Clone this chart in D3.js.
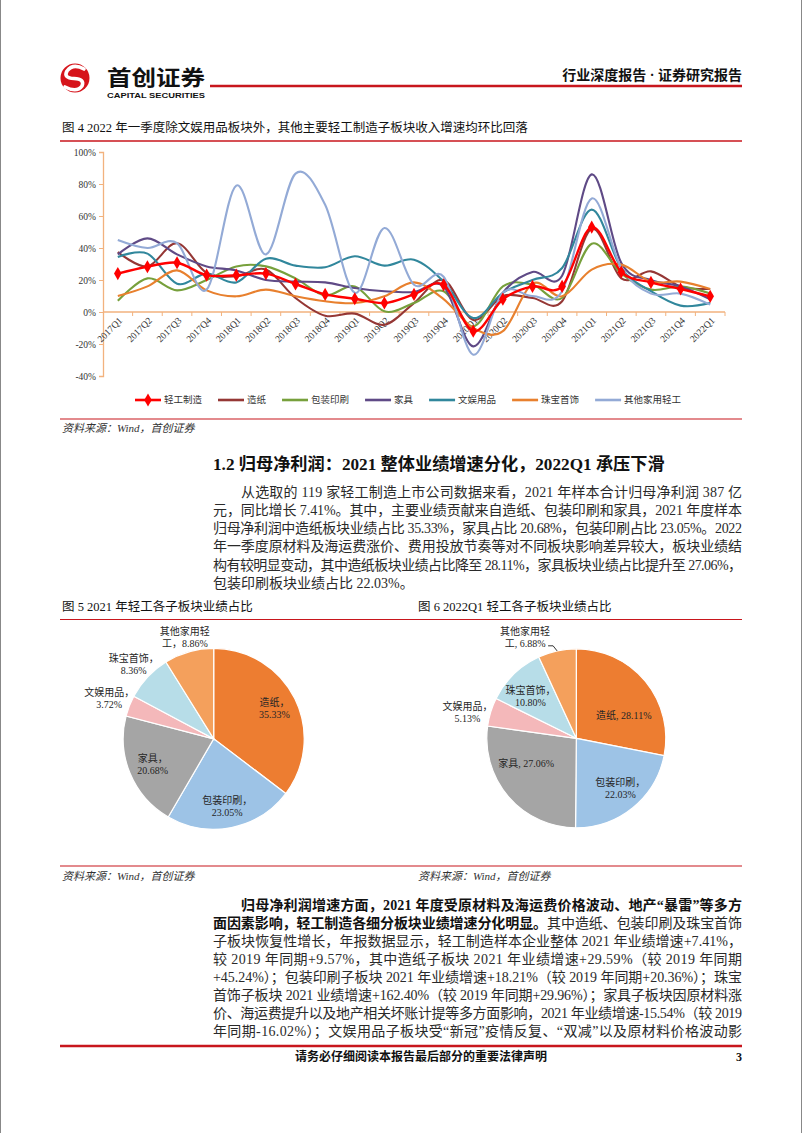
<!DOCTYPE html>
<html><head><meta charset="utf-8">
<script src="https://cdn.jsdelivr.net/npm/d3@7"></script>
<style>html,body{margin:0;padding:0;background:#fff;} svg{display:block;}</style>
</head><body><svg id="page" width="802" height="1133"></svg>
<script>
// ---------------- DATA ----------------
const categories = ["2017Q1","2017Q2","2017Q3","2017Q4","2018Q1","2018Q2","2018Q3","2018Q4",
  "2019Q1","2019Q2","2019Q3","2019Q4","2020Q1","2020Q2","2020Q3","2020Q4",
  "2021Q1","2021Q2","2021Q3","2021Q4","2022Q1"];
const seriesNames = ["轻工制造","造纸","包装印刷","家具","文娱用品","珠宝首饰","其他家用轻工"];
const qinggong  = [24, 28.3, 30.8, 23, 23, 24, 17.5, 11, 8.3, 5.6, 11, 17, -12, 8, 16, 16, 53, 25, 18.5, 14.4, 9.8];
const zaozhi    = [37.5, 28.5, 43, 24.4, 22.3, 26.5, 8.75, -2.3, -1, -8, 5.6, 20, -5, 10, 8.75, 6.7, 52, 21, 25.4, 16, 14.4];
const baozhuang = [7, 21, 13.5, 20, 28.5, 28.5, 21, 10.4, 16, 0.4, 5.6, 13, -9, 16, 17, 8.75, 42.7, 24, 14, 16, 11.5];
const jiaju     = [36, 46, 36, 28.5, 26, 20, 19, 18.5, 15, 13, 12.5, 16, -21.5, 12, 25, 22.7, 86, 30.6, 20, 16, 8];
const wenyu     = [34.4, 36.5, 17.7, 24, 18.5, 33.3, 29, 28, 34.8, 29, 32.7, 19, -3.75, 12, 20, 27.5, 64, 27.5, 13, 4, 5.6];
const zhubao    = [10, 16, 26, 13.5, 9.8, 14, 9.8, 6.7, 5.6, 9.8, 18.5, 8, -10, -12, 17.7, 9.8, 26.5, 29.6, 19, 19, 14.4];
const qita      = [45, 40, 43, 14, 79, 36, 86.5, 67, 12, 52.5, 17, 22, -26.7, 12, 10, 13, 71, 27.5, 11.5, 11.5, 4.6];
const yTicks = [-40, -20, 0, 20, 40, 60, 80, 100];

const pieCats = ["造纸","包装印刷","家具","文娱用品","珠宝首饰","其他家用轻工"];
const pie2021 = [35.33, 23.05, 20.68, 3.72, 8.36, 8.86];
const pie2022 = [28.11, 22.03, 27.06, 5.13, 10.80, 6.88];

// ---------------- STYLE ----------------
const SERIF = "'Liberation Serif','Noto Sans CJK SC',serif";
const SANS = "'Noto Sans CJK SC','Liberation Sans',sans-serif";
const RED = "#C8161D";
const AXIS = "#F2B27E";
const lineColors = ["#FF0000","#953735","#77A03C","#5F4A86","#31879C","#E8802E","#93AAD6"];
const pieColors = ["#ED7D31","#9DC3E6","#A5A5A5","#F4B8BA","#B7DDE8","#F4A05C"];
const TXT = "#2a2a2a";

const svg = d3.select("#page");
svg.append("rect").attr("width",802).attr("height",1133).attr("fill","#fff");
svg.append("line").attr("x1",0.5).attr("x2",0.5).attr("y1",0).attr("y2",1133).attr("stroke","#888");
svg.append("line").attr("x1",801.5).attr("x2",801.5).attr("y1",0).attr("y2",1133).attr("stroke","#888");

function hline(y, x1, x2, w){
  svg.append("line").attr("x1",x1).attr("x2",x2).attr("y1",y).attr("y2",y)
    .attr("stroke",RED).attr("stroke-width",w);
}
function txt(x, y, s, opt={}){
  return svg.append("text").attr("x",x).attr("y",y).text(s)
    .attr("font-family",opt.family||SERIF).attr("font-size",opt.size||12)
    .attr("font-weight",opt.weight||"normal").attr("font-style",opt.style||"normal")
    .attr("fill",opt.fill||TXT).attr("text-anchor",opt.anchor||"start")
    .attr("dominant-baseline","central");
}

// ---------------- HEADER ----------------
const logo = svg.append("g");
logo.append("circle").attr("cx",75).attr("cy",78).attr("r",14.5).attr("fill","#D6141B");
logo.append("path").attr("d","M84,69 Q73,63 67,71 Q63,78 74,78.5 Q85,79 82,86 Q77,93 65,87")
  .attr("fill","none").attr("stroke","#fff").attr("stroke-width",3.6).attr("stroke-linecap","round");
txt(107, 75.5, "首创证券", {family:SANS, size:21, weight:"bold", fill:"#111"}).attr("textLength",98).attr("lengthAdjust","spacingAndGlyphs");
txt(107, 95, "CAPITAL SECURITIES", {family:"'Liberation Sans',sans-serif", size:8, weight:"bold", fill:"#111"}).attr("textLength",98).attr("lengthAdjust","spacingAndGlyphs");
hline(86, 210, 742, 2.5);
txt(742, 75, "行业深度报告 · 证券研究报告", {size:14, weight:"bold", anchor:"end", fill:"#111"});

// ---------------- FIGURE 4 ----------------
txt(62, 128, "图 4 2022 年一季度除文娱用品板块外，其他主要轻工制造子板块收入增速均环比回落", {size:12.5, fill:"#111"});
hline(141, 60, 742, 1.5);

const x = d3.scaleBand().domain(categories).range([103, 725]);
const y = d3.scaleLinear().domain([-40, 100]).range([376, 152]);
const cx = d => x(d) + x.bandwidth()/2;

const chart = svg.append("g");
const ya = chart.append("g").attr("transform","translate(103,0)")
  .call(d3.axisLeft(y).tickValues(yTicks).tickFormat(d => d + "%").tickSize(4).tickPadding(3));
ya.select(".domain").attr("stroke",AXIS).attr("stroke-width",1.3);
ya.selectAll(".tick line").attr("stroke",AXIS);
ya.selectAll(".tick text").attr("font-family",SERIF).attr("font-size",9.5).attr("fill","#333");

const xa = chart.append("g").attr("transform",`translate(0,${y(0)})`);
xa.append("line").attr("x1",x.range()[0]).attr("x2",x.range()[1]).attr("stroke",AXIS).attr("stroke-width",1.3);
xa.selectAll("line.tk").data(categories.slice(1).concat([null])).join("line").attr("class","tk")
  .attr("x1", d => d ? x(d) : x.range()[1]).attr("x2", d => d ? x(d) : x.range()[1])
  .attr("y1",0).attr("y2",4).attr("stroke",AXIS);
xa.selectAll("text").data(categories).join("text")
  .attr("transform", d => `translate(${cx(d)+3},7) rotate(-45)`)
  .attr("text-anchor","end").attr("dominant-baseline","central")
  .attr("font-family",SERIF).attr("font-size",9.5).attr("fill","#333").text(d => d);

const allSeries = [qinggong, zaozhi, baozhuang, jiaju, wenyu, zhubao, qita];
const lineGen = d3.line().x((d,i) => cx(categories[i])).y(d => y(d)).curve(d3.curveCardinal.tension(0));
const drawOrder = [1,2,3,4,5,6,0];
drawOrder.forEach(k => {
  chart.append("path").attr("d", lineGen(allSeries[k])).attr("fill","none")
    .attr("stroke", lineColors[k]).attr("stroke-width", k===0 ? 2.4 : 2.1).attr("stroke-linejoin","round");
});
const diamond = d3.symbol().type(d3.symbolDiamond).size(50);
chart.selectAll("path.mk").data(qinggong).join("path").attr("class","mk")
  .attr("transform",(d,i) => `translate(${cx(categories[i])},${y(d)})`)
  .attr("d", diamond()).attr("fill","#FF0000");

// legend
const leg = svg.append("g");
let lx = 135; const ly = 400;
seriesNames.forEach((name,i) => {
  leg.append("line").attr("x1",lx).attr("x2",lx+26).attr("y1",ly).attr("y2",ly)
    .attr("stroke",lineColors[i]).attr("stroke-width",2.6);
  if (i===0) leg.append("path").attr("transform",`translate(${lx+13},${ly})`).attr("d",diamond()).attr("fill","#FF0000");
  const t = leg.append("text").attr("x",lx+29).attr("y",ly).attr("dominant-baseline","central")
    .attr("font-family",SERIF).attr("font-size",9.5).attr("fill","#333").text(name);
  lx = lx + 29 + t.node().getComputedTextLength() + 16;
});

hline(419, 60, 742, 1.2);
txt(62, 428, "资料来源：Wind，首创证券", {size:11, style:"italic", fill:"#333"});

// ---------------- TEXT BLOCKS ----------------
function justifyLine(segs, x0, x1, yy, size, justify){
  const els = segs.map(s => svg.append("text").attr("y",yy).attr("font-family",SERIF)
    .attr("font-size",size).attr("font-weight", s[1] ? "bold" : "normal").attr("fill", s[1] ? "#111" : TXT)
    .attr("dominant-baseline","central").text(s[0]));
  const widths = els.map(e => e.node().getComputedTextLength());
  const total = d3.sum(widths);
  const nChars = d3.sum(segs, s => [...s[0]].length);
  const extra = justify ? (x1 - x0 - total) / Math.max(1, nChars - 1) : 0;
  let px = x0;
  els.forEach((e,i) => {
    const n = [...segs[i][0]].length;
    const L = widths[i] + extra * (i === els.length-1 ? n-1 : n);
    e.attr("x", px);
    if (justify) e.attr("textLength", L).attr("lengthAdjust","spacing");
    px += widths[i] + extra * n;
  });
}

txt(213, 464, "1.2  归母净利润：2021 整体业绩增速分化，2022Q1 承压下滑", {size:17.2, weight:"bold", fill:"#111"});

const para1 = [
  [[["从选取的 119 家轻工制造上市公司数据来看，2021 年样本合计归母净利润 387 亿",0]], true, true],
  [[["元，同比增长 7.41%。其中，主要业绩贡献来自造纸、包装印刷和家具，2021 年度样本",0]], false, true],
  [[["归母净利润中造纸板块业绩占比 35.33%，家具占比 20.68%，包装印刷占比 23.05%。2022",0]], false, true],
  [[["年一季度原材料及海运费涨价、费用投放节奏等对不同板块影响差异较大，板块业绩结",0]], false, true],
  [[["构有较明显变动，其中造纸板块业绩占比降至 28.11%，家具板块业绩占比提升至 27.06%，",0]], false, true],
  [[["包装印刷板块业绩占比 22.03%。",0]], false, false]
];
para1.forEach((ln,i) => justifyLine(ln[0], ln[1] ? 241 : 213, 742, 492 + i*18.3, 14, ln[2]));

// ---------------- FIGURES 5 & 6 ----------------
txt(62, 607, "图 5 2021 年轻工各子板块业绩占比", {size:12.5, fill:"#111"});
txt(418, 607, "图 6 2022Q1 轻工各子板块业绩占比", {size:12.5, fill:"#111"});
hline(619.5, 60, 742, 1.2);

const pieGen = d3.pie().sort(null).value(d => d);
function drawPie(values, cxp, cyp, r, labels, labelLayout){
  const arcs = pieGen(values);
  const arc = d3.arc().innerRadius(0).outerRadius(r);
  const g = svg.append("g").attr("transform",`translate(${cxp},${cyp})`);
  g.selectAll("path").data(arcs).join("path").attr("d",arc)
    .attr("fill",(d,i) => pieColors[i]).attr("stroke","#fff").attr("stroke-width",1.2);
  arcs.forEach((a,i) => {
    const lay = labelLayout[i];
    const ang = lay.ang !== undefined ? lay.ang*Math.PI/180 : (a.startAngle + a.endAngle)/2;
    const rr = lay.rf * r;
    const lxp = Math.sin(ang)*rr, lyp = -Math.cos(ang)*rr;
    const lines = labels[i];
    const t = g.append("text").attr("text-anchor","middle").attr("font-family",SERIF)
      .attr("font-size",10).attr("fill","#262626");
    lines.forEach((s,j) => t.append("tspan").attr("x",lxp)
      .attr("y", lyp + (j - (lines.length-1)/2)*12).attr("dominant-baseline","central").text(s));
    if (lay.leader) {
      const ma = (a.startAngle + a.endAngle)/2;
      const ex = Math.sin(ma)*r, ey = -Math.cos(ma)*r;
      const sx = lxp + 23, sy = lyp + 8;
      g.append("path").attr("d",`M${sx},${sy} L${sx+5},${sy} L${ex},${ey}`)
        .attr("fill","none").attr("stroke","#333").attr("stroke-width",1);
    }
  });
}
const fmt = v => v.toFixed(2) + "%";
const labels2021 = pieCats.map((c,i) => c === "其他家用轻工"
  ? ["其他家用轻", "工，" + fmt(pie2021[i])] : [c + "，", fmt(pie2021[i])]);
const labels2022 = pieCats.map((c,i) => {
  if (c === "其他家用轻工") return ["其他家用轻", "工, " + fmt(pie2022[i])];
  if (c === "造纸" || c === "家具") return [c + ", " + fmt(pie2022[i])];
  return [c + "，", fmt(pie2022[i])];
});
drawPie(pie2021, 213.7, 738.8, 90.5, labels2021,
  [{rf:0.75},{rf:0.76},{rf:0.73},{rf:1.24},{rf:1.21},{rf:1.16}]);
drawPie(pie2022, 576.3, 738.3, 89.5, labels2022,
  [{rf:0.59, ang:64},{rf:0.75, ang:139},{rf:0.63, ang:243},{rf:1.25, ang:283.5},{rf:0.69, ang:312},{rf:1.26, ang:333, leader:true}]);

hline(866, 60, 742, 1.2);
txt(62, 876, "资料来源：Wind，首创证券", {size:11, style:"italic", fill:"#333"});
txt(418, 876, "资料来源：Wind，首创证券", {size:11, style:"italic", fill:"#333"});

const para2 = [
  [[["归母净利润增速方面，2021 年度受原材料及海运费价格波动、地产“暴雷”等多方",1]], true, true],
  [[["面因素影响，轻工制造各细分板块业绩增速分化明显。",1],["其中造纸、包装印刷及珠宝首饰",0]], false, true],
  [[["子板块恢复性增长，年报数据显示，轻工制造样本企业整体 2021 年业绩增速+7.41%，",0]], false, true],
  [[["较 2019 年同期+9.57%，其中造纸子板块 2021 年业绩增速+29.59%（较 2019 年同期",0]], false, true],
  [[["+45.24%）；包装印刷子板块 2021 年业绩增速+18.21%（较 2019 年同期+20.36%）；珠宝",0]], false, true],
  [[["首饰子板块 2021 业绩增速+162.40%（较 2019 年同期+29.96%）；家具子板块因原材料涨",0]], false, true],
  [[["价、海运费提升以及地产相关坏账计提等多方面影响，2021 年业绩增速-15.54%（较 2019",0]], false, true],
  [[["年同期-16.02%）；文娱用品子板块受“新冠”疫情反复、“双减”以及原材料价格波动影",0]], false, true]
];
para2.forEach((ln,i) => justifyLine(ln[0], ln[1] ? 241 : 213, 742, 905 + i*18.1, 14, ln[2]));

// ---------------- FOOTER ----------------
hline(1046, 60, 742, 2.5);
txt(295, 1057, "请务必仔细阅读本报告最后部分的重要法律声明", {size:12, weight:"bold", fill:"#111"});
txt(742, 1057, "3", {size:12, weight:"bold", anchor:"end", fill:"#111"});
</script></body></html>
